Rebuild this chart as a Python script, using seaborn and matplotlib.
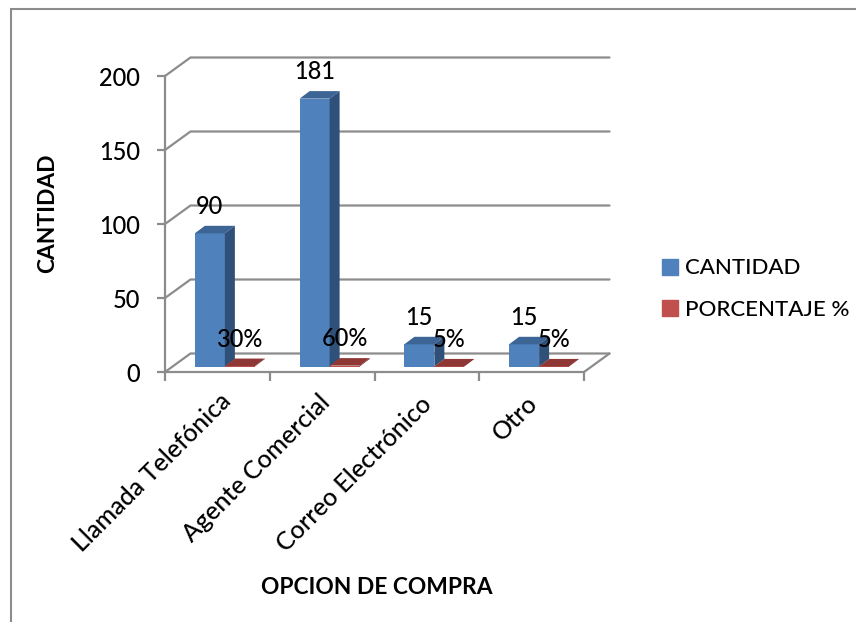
import matplotlib
matplotlib.use("Agg")
import matplotlib.pyplot as plt
import matplotlib.patches as mpatches
import matplotlib.transforms as mtrans
import pandas as pd
import seaborn as sns

# Survey results by purchase option
categories = ["Llamada Telefónica", "Agente Comercial", "Correo Electrónico", "Otro"]
cantidad = [90, 181, 15, 15]
porcentaje = [0.30, 0.60, 0.05, 0.05]
y_ticks = [0, 50, 100, 150, 200]
series_names = ["CANTIDAD", "PORCENTAJE %"]

BLUE = ["#4F81BD", "#3C6494", "#2F5078"]
RED = ["#C0504D", "#8E3735", "#6E2A28"]
GRID = "#8C8C8C"
FONT = "Lato"
W, H = 856, 622

sns.set_theme(style="white")
plt.rcParams["font.family"] = [FONT, "DejaVu Sans"]
plt.rcParams["font.weight"] = "medium"
plt.rcParams["text.color"] = "black"

long_df = pd.DataFrame({
    "opcion": categories * 2,
    "valor": cantidad + porcentaje,
    "serie": [series_names[0]] * 4 + [series_names[1]] * 4,
})

fig = plt.figure(figsize=(W / 100, H / 100), dpi=100, facecolor="white")


def axes_rect(left, right, top, bottom):
    return [left / W, 1 - bottom / H, (right - left) / W, (bottom - top) / H]


# Outer chart frame, open past the right and bottom edges
fig.add_artist(mpatches.Rectangle((10.5 / W, -0.1), 2, 1.1 - 8.5 / H, transform=fig.transFigure,
                                  fill=False, edgecolor=GRID, linewidth=1.5))

# Front plane carries the axes, ticks and labels
frame = fig.add_axes(axes_rect(165, 584, 76, 372))
frame.patch.set_alpha(0)
frame.set_xlim(-0.5, 3.5)
frame.set_ylim(0, 200)
px_x = 4 / (584 - 165)
px_y = 200 / (372 - 76)
depth_x = 25.5 * px_x
depth_y = 18.5 * px_y

for v in y_ticks:
    frame.plot([-0.5, -0.5 + depth_x, 3.5 + depth_x], [v, v + depth_y, v + depth_y],
               color=GRID, lw=1.6, clip_on=False, zorder=1, solid_joinstyle="miter")
frame.plot([3.5, 3.5 + depth_x], [0, depth_y], color=GRID, lw=1.6, clip_on=False, zorder=1)

for side in ("top", "right"):
    frame.spines[side].set_visible(False)
for side in ("left", "bottom"):
    frame.spines[side].set_color(GRID)
    frame.spines[side].set_linewidth(1.6)

frame.set_yticks(y_ticks)
frame.set_xticks([i - 0.5 for i in range(5)], minor=True)
frame.set_xticks(range(4))
frame.set_xticklabels(categories, rotation=45, ha="right", va="top", rotation_mode="anchor", fontsize=18)
frame.tick_params(axis="x", which="major", length=0, pad=10)
frame.tick_params(axis="x", which="minor", length=6.5, width=1.6, color=GRID, direction="out")
frame.tick_params(axis="y", length=6, width=1.6, color=GRID, direction="out", labelsize=17, pad=12,
                  left=True, labelcolor="black")
frame.tick_params(axis="x", bottom=True, which="both", labelcolor="black")

# Rotated category labels are nudged individually to sit clear of the floor
label_nudge_px = [(2, -3), (-4, -5), (-7, -7), (-6, -5)]
for lbl, (nx, ny) in zip(frame.get_xticklabels(), label_nudge_px):
    lbl.set_transform(lbl.get_transform() + mtrans.ScaledTranslation(nx / 100, ny / 100, fig.dpi_scale_trans))
frame.set_xlabel("")
frame.set_ylabel("")

# Columns sit on a plane slightly behind the front edge
ax = fig.add_axes(axes_rect(172.5, 591.5, 70.5, 366.5))
ax.patch.set_alpha(0)
sns.barplot(data=long_df, x="opcion", y="valor", hue="serie", order=categories,
            hue_order=series_names, palette=[BLUE[0], RED[0]], width=0.573, saturation=1,
            dodge=True, legend=False, linewidth=0, ax=ax)
ax.set_xlim(-0.5, 3.5)
ax.set_ylim(0, 200)
ax.axis("off")

bar_dx = 10 * px_x
bar_dy = 7.5 * px_y
for container, shades, fmt in zip(ax.containers, (BLUE, RED), ("{:.0f}", "{:.0%}")):
    for bar, val in zip(container, container.datavalues):
        x0, w, h = bar.get_x(), bar.get_width(), bar.get_height()
        bar.set_zorder(3)
        ax.add_patch(mpatches.Polygon(
            [(x0, h), (x0 + bar_dx, h + bar_dy), (x0 + w + bar_dx, h + bar_dy), (x0 + w, h)],
            closed=True, facecolor=shades[1], edgecolor="none", clip_on=False, zorder=3))
        ax.add_patch(mpatches.Polygon(
            [(x0 + w, 0), (x0 + w, h), (x0 + w + bar_dx, h + bar_dy), (x0 + w + bar_dx, bar_dy)],
            closed=True, facecolor=shades[2], edgecolor="none", clip_on=False, zorder=3))
        ax.annotate(fmt.format(val), (x0 + w / 2, h), xytext=(0, 27), textcoords="offset pixels",
                    ha="center", va="center", fontsize=17, color="black", zorder=5,
                    annotation_clip=False)

frame.set_zorder(1)
ax.set_zorder(2)

# Axis titles and legend
fig.text(48 / W, 1 - 213 / H, "CANTIDAD", rotation=90, ha="center", va="center",
         fontsize=16.4, fontweight="bold", color="black")
fig.text(377 / W, 1 - 587 / H, "OPCION DE COMPRA", ha="center", va="center",
         fontsize=16.4, fontweight="bold", color="black")

handles = [mpatches.Patch(color=BLUE[0], label=series_names[0]),
           mpatches.Patch(color=RED[0], label=series_names[1])]
fig.legend(handles=handles, loc="center left", bbox_to_anchor=(662 / W, 1 - 289 / H), frameon=False,
           fontsize=16, handlelength=0.72, handleheight=0.72, handletextpad=0.3,
           labelspacing=0.95, borderpad=0, borderaxespad=0)

fig.savefig("out.png", dpi=100)
